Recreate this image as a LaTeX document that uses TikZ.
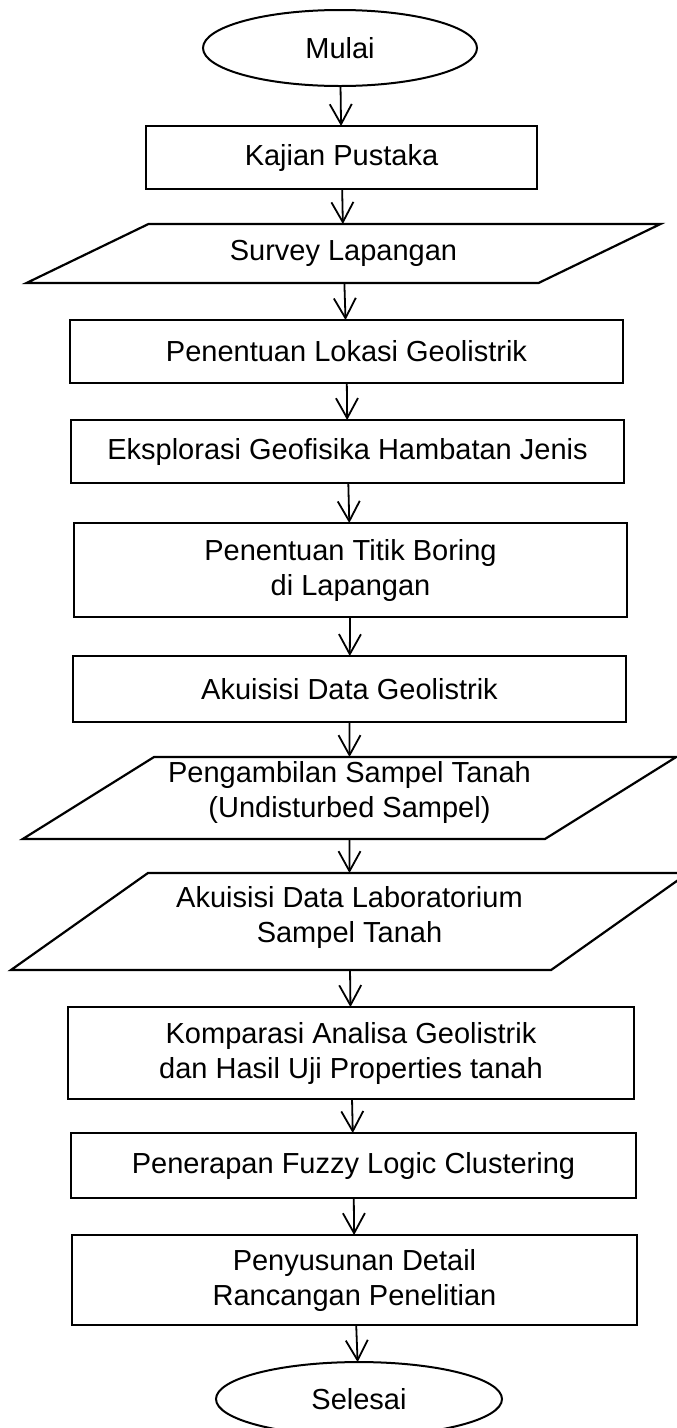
\documentclass[tikz,border=0pt]{standalone}
\usepackage{fontspec}
\setmainfont{Liberation Sans}
\usepackage{tikz}
\usetikzlibrary{positioning,shapes.geometric,arrows.meta}

\begin{document}
\begin{tikzpicture}[x=1pt,y=1pt,node distance=37pt,font=\fontsize{29}{35}\selectfont,
  terminal/.style={ellipse,draw,line width=2pt,outer sep=0pt,minimum width=274pt,minimum height=76pt,inner sep=0pt},
  process/.style={rectangle,draw,line width=2.2pt,outer sep=0pt,minimum width=553pt,minimum height=63pt,inner sep=2pt,align=center},
  io/.style={trapezium,draw,line width=2.2pt,outer sep=0pt,trapezium stretches=true,inner sep=2pt,align=center},
  flow/.style={line width=1.8pt,-{Straight Barb[length=20pt,width=22pt]}}] %
    \useasboundingbox (0,0) rectangle (677,-1428);
    \node[terminal] (mulai) at (340,-48) {Mulai} ; %
    \node[process, below=of mulai, xshift=1.5pt, yshift=-3pt, minimum width=391pt] (kajian) {Kajian Pustaka} ; %
    \node[io, below=of kajian, xshift=2pt, yshift=2pt, minimum width=635pt, minimum height=59pt,
      trapezium left angle=22.7, trapezium right angle=157.3] (survey) {Survey Lapangan} ; %
    \node[process, below=of survey, xshift=3pt] (lokasi) {Penentuan Lokasi Geolistrik} ; %
    \node[process, below=of lokasi, xshift=1pt] (eksplorasi) {Eksplorasi Geofisika Hambatan Jenis} ; %
    \node[process, below=of eksplorasi, xshift=3pt, yshift=-3pt, minimum height=94pt] (boring) {Penentuan Titik Boring\\di Lapangan} ; %
    \node[process, below=of boring, xshift=-1pt, yshift=-2pt, minimum height=66pt] (akuisisi) {Akuisisi Data Geolistrik} ; %
    % teks dalam jajaran genjang agak ke atas
    \node[io, below=of akuisisi, yshift=2pt, minimum width=659pt, minimum height=82pt, inner ysep=0pt, text depth=18pt,
      trapezium left angle=31, trapezium right angle=149] (sampel) {Pengambilan Sampel Tanah\\(Undisturbed Sampel)} ; %
    \node[io, below=of sampel, yshift=3pt, minimum width=679pt, minimum height=97pt, text depth=15pt,
      trapezium left angle=32.2, trapezium right angle=147.8] (lab) {Akuisisi Data Laboratorium\\Sampel Tanah} ; %
    \node[process, below=of lab, xshift=1.5pt, minimum width=566pt, minimum height=92pt] (komparasi) {Komparasi Analisa Geolistrik\\dan Hasil Uji Properties tanah} ; %
    \node[process, below=of komparasi, xshift=2.5pt, yshift=3pt, minimum width=565pt, minimum height=65pt] (fuzzy) {Penerapan Fuzzy Logic Clustering} ; %
    \node[process, below=of fuzzy, xshift=1pt, minimum width=565pt, minimum height=90pt] (penyusunan) {Penyusunan Detail\\Rancangan Penelitian} ; %
    \node[terminal, below=of penyusunan, xshift=4.5pt, minimum width=286pt, minimum height=74pt] (selesai) {Selesai} ; %
    \draw[flow] (mulai) -- (kajian) ; %
    \draw[flow] (kajian) -- (survey) ;
    \draw[flow] (survey) -- (lokasi) ;
    \draw[flow] (lokasi) -- (eksplorasi) ;
    \draw[flow] (eksplorasi) -- (boring) ;
    \draw[flow] (boring) -- (akuisisi) ;
    \draw[flow] (akuisisi) -- (sampel) ;
    \draw[flow] (sampel) -- (lab) ;
    \draw[flow] (lab) -- (komparasi) ;
    \draw[flow] (komparasi) -- (fuzzy) ;
    \draw[flow] (fuzzy) -- (penyusunan) ;
    \draw[flow] (penyusunan) -- (selesai) ;
\end{tikzpicture}
\end{document}
